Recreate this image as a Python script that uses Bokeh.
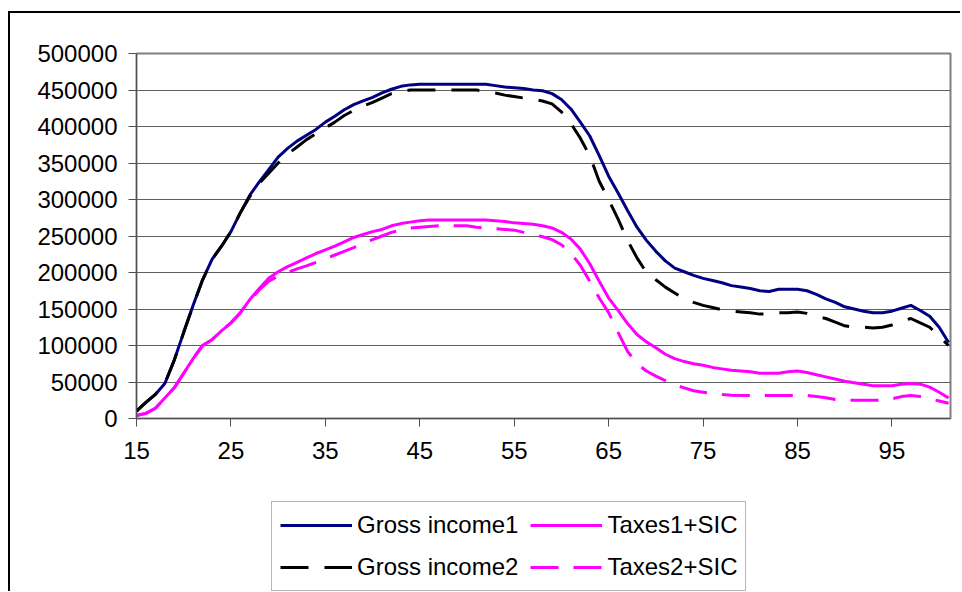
from bokeh.plotting import figure
from bokeh.layouts import column
from bokeh.models import (Range1d, FixedTicker, BasicTickFormatter, Legend, LegendItem,
                          ColumnDataSource)
from bokeh.embed import file_html
from bokeh.resources import INLINE

# Age axis (years)
ages = list(range(15, 102))

gross_income1 = [
    10000, 22000, 33000, 48000, 80000, 118000, 155000, 190000, 218000, 236000,   # 15-24
    256000, 282000, 306000, 324000, 341000, 358000, 370000, 380000, 388000, 396000,  # 25-34
    406000, 414000, 423000, 430000, 435000, 440000, 446000, 451000, 455000, 457000,  # 35-44
    458000, 458000, 458000, 458000, 458000, 458000, 458000, 458000, 456000, 454000,  # 45-54
    453000, 452000, 450000, 449000, 445000, 437000, 424000, 406000, 387000, 360000,  # 55-64
    332000, 309000, 285000, 262000, 244000, 229000, 216000, 206000, 201000, 196000,  # 65-74
    192000, 189000, 186000, 182000, 180000, 178000, 175000, 174000, 177000, 177000,  # 75-84
    177000, 175000, 170000, 164000, 159000, 153000, 150000, 147000, 145000, 145000,  # 85-94
    147000, 151000, 155000, 148000, 140000, 125000, 104000,                          # 95-101
]

gross_income2 = [
    10000, 22000, 33000, 48000, 80000, 118000, 155000, 190000, 218000, 236000,
    256000, 282000, 304000, 322000, 336000, 350000, 362000, 372000, 382000, 390000,
    398000, 406000, 415000, 422000, 428000, 433000, 439000, 445000, 448000, 450000,
    450000, 450000, 450000, 450000, 450000, 450000, 450000, 448000, 446000, 443000,
    441000, 439000, 437000, 435000, 431000, 420000, 404000, 384000, 360000, 325000,
    300000, 273000, 244000, 220000, 200000, 190000, 180000, 172000, 164000, 159000,
    155000, 152000, 149000, 147000, 146000, 145000, 143000, 143000, 145000, 145000,
    146000, 144000, 140000, 137000, 132000, 127000, 125000, 125000, 124000, 125000,
    128000, 133000, 137000, 131000, 125000, 112000, 100000,
]

taxes1_sic = [
    4000, 7000, 14000, 28000, 42000, 62000, 82000, 100000, 108000, 120000,
    131000, 145000, 163000, 178000, 192000, 201000, 208000, 214000, 220000, 226000,
    231000, 236000, 242000, 248000, 252000, 256000, 259000, 264000, 267000, 269000,
    271000, 272000, 272000, 272000, 272000, 272000, 272000, 272000, 271000, 270000,
    268000, 267000, 266000, 264000, 261000, 255000, 246000, 232000, 212000, 188000,
    165000, 148000, 130000, 115000, 105000, 97000, 88000, 82000, 78000, 75000,
    73000, 70000, 68000, 66000, 65000, 64000, 62000, 62000, 62000, 64000,
    65000, 63000, 60000, 57000, 54000, 51000, 49000, 47000, 45000, 45000,
    45000, 47000, 48000, 47000, 43000, 36000, 28000,
]

taxes2_sic = [
    4000, 7000, 14000, 28000, 42000, 62000, 82000, 100000, 108000, 120000,
    131000, 145000, 162000, 176000, 188000, 195000, 200000, 205000, 209000, 214000,
    219000, 224000, 229000, 234000, 240000, 245000, 250000, 255000, 258000, 261000,
    262000, 263000, 264000, 264000, 264000, 264000, 262000, 261000, 260000, 259000,
    258000, 255000, 252000, 249000, 245000, 238000, 226000, 210000, 188000, 165000,
    145000, 118000, 92000, 75000, 65000, 58000, 52000, 46000, 42000, 38000,
    36000, 34000, 33000, 32000, 31500, 31500, 31500, 31500, 31500, 31500,
    31500, 31500, 30000, 28500, 26000, 25000, 25000, 25000, 25000, 25000,
    27000, 30000, 31500, 30000, 27000, 24000, 21000,
]

series_keys = ["g1", "g2", "t1", "t2"]
series_labels = ["Gross income1", "Gross income2", "Taxes1+SIC", "Taxes2+SIC"]

x_ticks = [15, 25, 35, 45, 55, 65, 75, 85, 95]
y_ticks = list(range(0, 500001, 50000))

FONT = "Liberation Sans"

src = ColumnDataSource(dict(age=ages, g1=gross_income1, g2=gross_income2,
                            t1=taxes1_sic, t2=taxes2_sic))

styles = {
    "g1": dict(line_color="#000080", line_width=3),
    "t1": dict(line_color="#FF00FF", line_width=3),
    "g2": dict(line_color="black", line_width=3, line_dash="28 16"),
    "t2": dict(line_color="#FF00FF", line_width=3, line_dash="28 15"),
}

# ---- main chart ----
p = figure(width=950, height=472, output_backend="svg", toolbar_location=None,
           x_range=Range1d(15, 101.2), y_range=Range1d(0, 500000),
           min_border_left=126, min_border_right=10, min_border_top=40,
           min_border_bottom=67)
p.background_fill_color = "white"
p.border_fill_color = "white"
p.outline_line_color = "#808080"
p.outline_line_width = 2

p.xaxis.ticker = FixedTicker(ticks=x_ticks)
p.yaxis.ticker = FixedTicker(ticks=y_ticks)
p.yaxis.formatter = BasicTickFormatter(use_scientific=False)
for ax in (p.xaxis[0], p.yaxis[0]):
    ax.axis_line_color = "#505050"
    ax.axis_line_width = 1
    ax.major_tick_line_color = "#505050"
    ax.major_tick_in = 0
    ax.major_tick_out = 8
    ax.minor_tick_line_color = None
    ax.major_label_text_font = FONT
    ax.major_label_text_font_size = "24px"
    ax.major_label_text_color = "black"
p.yaxis.major_label_standoff = 11
p.xaxis.major_label_standoff = 15

p.xgrid.grid_line_color = None
p.ygrid.ticker = FixedTicker(ticks=y_ticks)
p.ygrid.grid_line_color = "#606060"
p.ygrid.grid_line_width = 1

for key in ["g1", "t1", "g2", "t2"]:
    p.line("age", key, source=src, **styles[key])

# ---- legend strip below the chart ----
leg = figure(width=950, height=106, output_backend="svg", toolbar_location=None,
             x_axis_type=None, y_axis_type=None, min_border=0,
             x_range=Range1d(0, 1), y_range=Range1d(0, 1))
leg.outline_line_color = None
leg.grid.grid_line_color = None
leg.background_fill_color = "white"
leg.border_fill_color = "white"

items = []
for key, label in zip(series_keys, series_labels):
    # placeholder lines outside the visible range, used only for the legend keys
    r = leg.line([-2, -1], [-2, -1], **styles[key])
    items.append(LegendItem(label=label, renderers=[r]))

legend = Legend(items=items, ncols=2, location=(135, 0))
legend.label_text_font = FONT
legend.label_text_font_size = "24px"
legend.label_text_color = "black"
legend.label_height = 30
legend.glyph_height = 30
legend.glyph_width = 72
legend.label_standoff = 5
legend.spacing = 12
legend.padding = 8
legend.margin = 0
legend.border_line_color = "#707070"
legend.border_line_width = 1
legend.background_fill_color = "white"
legend.background_fill_alpha = 1
leg.add_layout(legend)

page = column(p, leg, spacing=0,
              styles={"margin-left": "8px", "margin-top": "11px",
                      "border-left": "2px solid black",
                      "border-top": "2px solid black"})

open("out.html", "w").write(file_html(page, INLINE))
